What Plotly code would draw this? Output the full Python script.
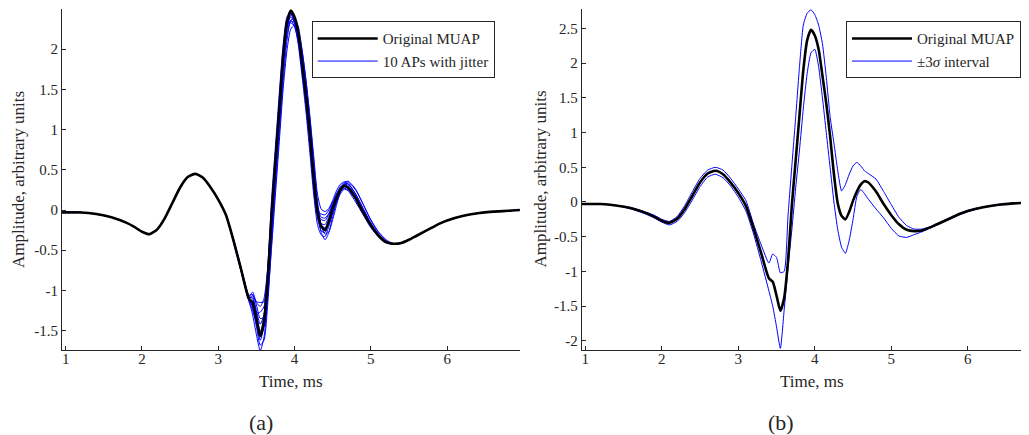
import plotly.graph_objects as go

# ---------------- data ----------------
time_ms = [0.95, 1.2, 1.4, 1.6, 1.8, 1.9, 2.0, 2.1, 2.2, 2.3, 2.4, 2.5, 2.6, 2.7, 2.8, 2.9, 3.0, 3.1,
           3.2, 3.3, 3.4, 3.45, 3.5, 3.55, 3.6, 3.65, 3.7, 3.75, 3.8, 3.85, 3.9, 3.95,
           4.0, 4.05, 4.1, 4.15, 4.2, 4.25, 4.3, 4.35, 4.4, 4.45, 4.5, 4.55, 4.6, 4.65,
           4.7, 4.8, 4.9, 5.0, 5.1, 5.2, 5.3, 5.4, 5.5, 5.6, 5.7, 5.8, 5.9, 6.0, 6.2, 6.4, 6.6, 6.8, 6.95]

muap = [-0.03, -0.03, -0.05, -0.09, -0.16, -0.21, -0.27, -0.30, -0.24, -0.10, 0.09, 0.28, 0.41, 0.45, 0.40, 0.28, 0.13, -0.06,
        -0.38, -0.74, -1.10, -1.15, -1.35, -1.57, -1.38, -0.85, -0.05, 0.60, 1.25, 1.90, 2.33, 2.48,
        2.40, 2.20, 1.82, 1.42, 0.95, 0.40, -0.02, -0.20, -0.25, -0.14, 0.02, 0.15, 0.25, 0.30,
        0.28, 0.15, -0.03, -0.19, -0.32, -0.40, -0.42, -0.41, -0.37, -0.32, -0.27, -0.22, -0.17, -0.13,
        -0.075, -0.04, -0.02, -0.01, 0.0]

# jittered APs: values from 3.2 ms to 5.3 ms (outside this window they coincide with the MUAP)
jitter_first, jitter_last = 3.2, 5.3
ap01 = [-0.39, -0.76, -1.12, -1.30, -1.55, -1.75, -1.58, -1.05, -0.25, 0.45, 1.10, 1.78, 2.25, 2.42, 2.38, 2.22, 1.88, 1.50, 1.05, 0.50, 0.02, -0.28, -0.37, -0.28, -0.08, 0.10, 0.24, 0.32, 0.33, 0.20, 0.01, -0.17, -0.31, -0.40, -0.43]
ap02 = [-0.37, -0.73, -1.08, -1.22, -1.45, -1.68, -1.62, -1.15, -0.40, 0.30, 0.95, 1.60, 2.10, 2.36, 2.38, 2.28, 1.98, 1.60, 1.15, 0.62, 0.12, -0.20, -0.30, -0.27, -0.12, 0.06, 0.22, 0.32, 0.36, 0.26, 0.07, -0.13, -0.28, -0.38, -0.43]
ap03 = [-0.38, -0.75, -1.11, -1.20, -1.42, -1.62, -1.45, -0.90, -0.10, 0.58, 1.22, 1.88, 2.32, 2.45, 2.38, 2.18, 1.80, 1.40, 0.92, 0.38, -0.03, -0.19, -0.22, -0.12, 0.02, 0.14, 0.24, 0.29, 0.28, 0.15, -0.03, -0.19, -0.32, -0.40, -0.42]
ap04 = [-0.37, -0.73, -1.08, -1.10, -1.28, -1.50, -1.45, -1.00, -0.25, 0.45, 1.08, 1.72, 2.18, 2.35, 2.33, 2.20, 1.90, 1.52, 1.05, 0.52, 0.06, -0.09, -0.10, -0.04, 0.08, 0.20, 0.29, 0.34, 0.33, 0.20, 0.02, -0.16, -0.30, -0.39, -0.43]
ap05 = [-0.38, -0.74, -1.09, -1.08, -1.25, -1.42, -1.30, -0.80, -0.02, 0.62, 1.26, 1.90, 2.30, 2.40, 2.33, 2.12, 1.75, 1.36, 0.90, 0.36, -0.05, -0.17, -0.18, -0.08, 0.05, 0.15, 0.23, 0.27, 0.25, 0.13, -0.04, -0.20, -0.32, -0.40, -0.42]
ap06 = [-0.36, -0.72, -1.06, -1.05, -1.18, -1.35, -1.33, -1.05, -0.45, 0.20, 0.85, 1.50, 1.98, 2.25, 2.30, 2.22, 1.98, 1.62, 1.18, 0.68, 0.20, 0.01, -0.02, 0.02, 0.12, 0.24, 0.32, 0.35, 0.35, 0.25, 0.07, -0.12, -0.27, -0.37, -0.42]
ap07 = [-0.39, -0.75, -1.11, -1.18, -1.28, -1.27, -1.20, -0.75, 0.02, 0.68, 1.30, 1.95, 2.36, 2.44, 2.35, 2.12, 1.72, 1.32, 0.85, 0.30, -0.10, -0.26, -0.28, -0.16, 0.00, 0.14, 0.24, 0.30, 0.29, 0.15, -0.03, -0.19, -0.32, -0.40, -0.42]
ap08 = [-0.38, -0.74, -1.10, -1.06, -1.15, -1.20, -1.10, -0.70, 0.05, 0.70, 1.32, 1.92, 2.28, 2.36, 2.28, 2.08, 1.72, 1.33, 0.88, 0.35, -0.04, -0.12, -0.13, -0.05, 0.07, 0.17, 0.25, 0.29, 0.27, 0.14, -0.04, -0.20, -0.32, -0.40, -0.42]
ap09 = [-0.38, -0.74, -1.08, -1.02, -1.14, -1.15, -1.14, -0.78, -0.05, 0.62, 1.25, 1.85, 2.25, 2.33, 2.28, 2.12, 1.78, 1.40, 0.95, 0.42, 0.00, -0.05, -0.06, 0.00, 0.10, 0.20, 0.28, 0.32, 0.31, 0.18, 0.00, -0.17, -0.31, -0.39, -0.42]
ap10 = [-0.40, -0.77, -1.13, -1.25, -1.40, -1.55, -1.30, -0.70, 0.15, 0.80, 1.45, 2.05, 2.40, 2.45, 2.32, 2.05, 1.65, 1.22, 0.72, 0.20, -0.18, -0.31, -0.33, -0.20, -0.04, 0.10, 0.20, 0.26, 0.24, 0.10, -0.06, -0.22, -0.33, -0.41, -0.42]
jittered_aps = [ap01, ap02, ap03, ap04, ap05, ap06, ap07, ap08, ap09, ap10]

sigma_upper = [-0.03, -0.03, -0.05, -0.08, -0.15, -0.19, -0.25, -0.28, -0.21, -0.05, 0.15, 0.34, 0.46, 0.50, 0.46, 0.34, 0.19, 0.02,
               -0.32, -0.62, -0.88, -0.75, -0.80, -1.02, -1.00, -0.20, 0.52, 1.22, 1.95, 2.55, 2.72, 2.77,
               2.70, 2.55, 2.28, 1.80, 1.23, 0.85, 0.45, 0.16, 0.25, 0.40, 0.52, 0.57, 0.52, 0.45,
               0.41, 0.33, 0.15, -0.04, -0.22, -0.34, -0.39, -0.39, -0.36, -0.31, -0.26, -0.21, -0.16, -0.12,
               -0.07, -0.035, -0.015, -0.005, 0.0]
sigma_lower = [-0.03, -0.03, -0.05, -0.10, -0.18, -0.23, -0.29, -0.33, -0.28, -0.15, 0.03, 0.22, 0.36, 0.40, 0.35, 0.23, 0.07, -0.13,
               -0.46, -0.86, -1.28, -1.50, -1.80, -2.11, -1.55, -0.95, -0.40, 0.20, 0.75, 1.35, 1.85, 2.15,
               2.20, 1.95, 1.50, 1.00, 0.50, 0.00, -0.40, -0.65, -0.74, -0.55, -0.25, 0.08, 0.18, 0.12,
               0.04, -0.10, -0.23, -0.38, -0.49, -0.51, -0.47, -0.43, -0.38, -0.33, -0.28, -0.23, -0.18, -0.14,
               -0.08, -0.045, -0.02, -0.01, 0.0]

x_ticks = [1, 2, 3, 4, 5, 6]
y_ticks_a = [-1.5, -1, -0.5, 0, 0.5, 1, 1.5, 2]
y_ticks_b = [-2, -1.5, -1, -0.5, 0, 0.5, 1, 1.5, 2, 2.5]

# ---------------- figure ----------------
PAGE_OFFSET = 8          # default body margin of the html page
W, H = 1029 - PAGE_OFFSET, 435 - PAGE_OFFSET
FONT = "Liberation Serif, Times New Roman, DejaVu Serif, serif"
AX = "#262626"
BLUE = "#0000ff"


def px_x(p):
    return (p - PAGE_OFFSET) / W


def px_y(p):
    return 1 - (p - PAGE_OFFSET) / H


def label(v):
    return ("%g" % v).replace("\u2212", "-")


i0 = time_ms.index(jitter_first)
i1 = time_ms.index(jitter_last)

fig = go.Figure()

# panel (a)
for k, ap in enumerate(jittered_aps):
    y = muap[:i0] + ap + muap[i1 + 1:]
    fig.add_trace(go.Scatter(
        x=time_ms, y=y, mode="lines", name="10 APs with jitter",
        line=dict(color=BLUE, width=1, shape="spline", smoothing=0.6),
        showlegend=(k == 0), legend="legend", legendrank=2,
        xaxis="x", yaxis="y", hoverinfo="skip"))
fig.add_trace(go.Scatter(
    x=time_ms, y=muap, mode="lines", name="Original MUAP",
    line=dict(color="black", width=2.6, shape="spline", smoothing=0.6),
    legend="legend", legendrank=1, xaxis="x", yaxis="y"))

# panel (b)
fig.add_trace(go.Scatter(
    x=time_ms, y=sigma_upper, mode="lines", name="\u00b13<i>\u03c3</i> interval",
    line=dict(color=BLUE, width=1, shape="spline", smoothing=0.5),
    legend="legend2", legendrank=2, xaxis="x2", yaxis="y2"))
fig.add_trace(go.Scatter(
    x=time_ms, y=sigma_lower, mode="lines", name="\u00b13<i>\u03c3</i> interval",
    line=dict(color=BLUE, width=1, shape="spline", smoothing=0.5),
    showlegend=False, legend="legend2", xaxis="x2", yaxis="y2"))
fig.add_trace(go.Scatter(
    x=time_ms, y=muap, mode="lines", name="Original MUAP",
    line=dict(color="black", width=2.6, shape="spline", smoothing=0.6),
    legend="legend2", legendrank=1, xaxis="x2", yaxis="y2"))

axis_common = dict(
    showgrid=False, zeroline=False, showline=True, linecolor=AX, linewidth=1,
    ticks="inside", ticklen=4, tickwidth=1, tickcolor=AX,
    tickfont=dict(family=FONT, size=15, color=AX), mirror=False,
)

legend_common = dict(xanchor="left", yanchor="top", bgcolor="white", bordercolor=AX,
                     borderwidth=1, font=dict(family=FONT, size=15, color=AX), itemwidth=60)

fig.update_layout(
    width=W, height=H,
    margin=dict(l=0, r=0, t=0, b=0),
    paper_bgcolor="white", plot_bgcolor="white",
    font=dict(family=FONT, color=AX),
    xaxis=dict(domain=[px_x(62), px_x(520)], range=[0.952, 6.955], anchor="y",
               tickvals=x_ticks, ticktext=[label(v) for v in x_ticks],
               ticklabelstandoff=-5, **axis_common),
    yaxis=dict(domain=[px_y(350), px_y(9)], range=[-1.741, 2.5], anchor="x",
               tickvals=y_ticks_a, ticktext=[label(v) for v in y_ticks_a], **axis_common),
    xaxis2=dict(domain=[px_x(581.7), 1.0], range=[0.953, 6.80], anchor="y2",
                tickvals=x_ticks, ticktext=[label(v) for v in x_ticks],
                ticklabelstandoff=-5, **axis_common),
    yaxis2=dict(domain=[px_y(350), px_y(9.3)], range=[-2.133, 2.777], anchor="x2",
                tickvals=y_ticks_b, ticktext=[label(v) for v in y_ticks_b], **axis_common),
    legend=dict(x=px_x(311.7), y=px_y(21.3), **legend_common),
    legend2=dict(x=px_x(846), y=px_y(21.3), **legend_common),
    showlegend=True,
)

ann_font = dict(family=FONT, size=17, color=AX)
annotations = [
    dict(text="Time, ms", x=px_x(291), y=px_y(381), font=ann_font),
    dict(text="Time, ms", x=px_x(811.7), y=px_y(381), font=ann_font),
    dict(text="Amplitude, arbitrary units", x=px_x(18.5), y=px_y(179.5), textangle=-90, font=ann_font),
    dict(text="Amplitude, arbitrary units", x=px_x(540), y=px_y(179.5), textangle=-90, font=ann_font),
    dict(text="(a)", x=px_x(261), y=px_y(422), font=dict(family=FONT, size=22, color=AX)),
    dict(text="(b)", x=px_x(781), y=px_y(422), font=dict(family=FONT, size=22, color=AX)),
]
for a in annotations:
    fig.add_annotation(xref="paper", yref="paper", showarrow=False,
                       xanchor="center", yanchor="middle", **a)

fig.write_html("out.html")
